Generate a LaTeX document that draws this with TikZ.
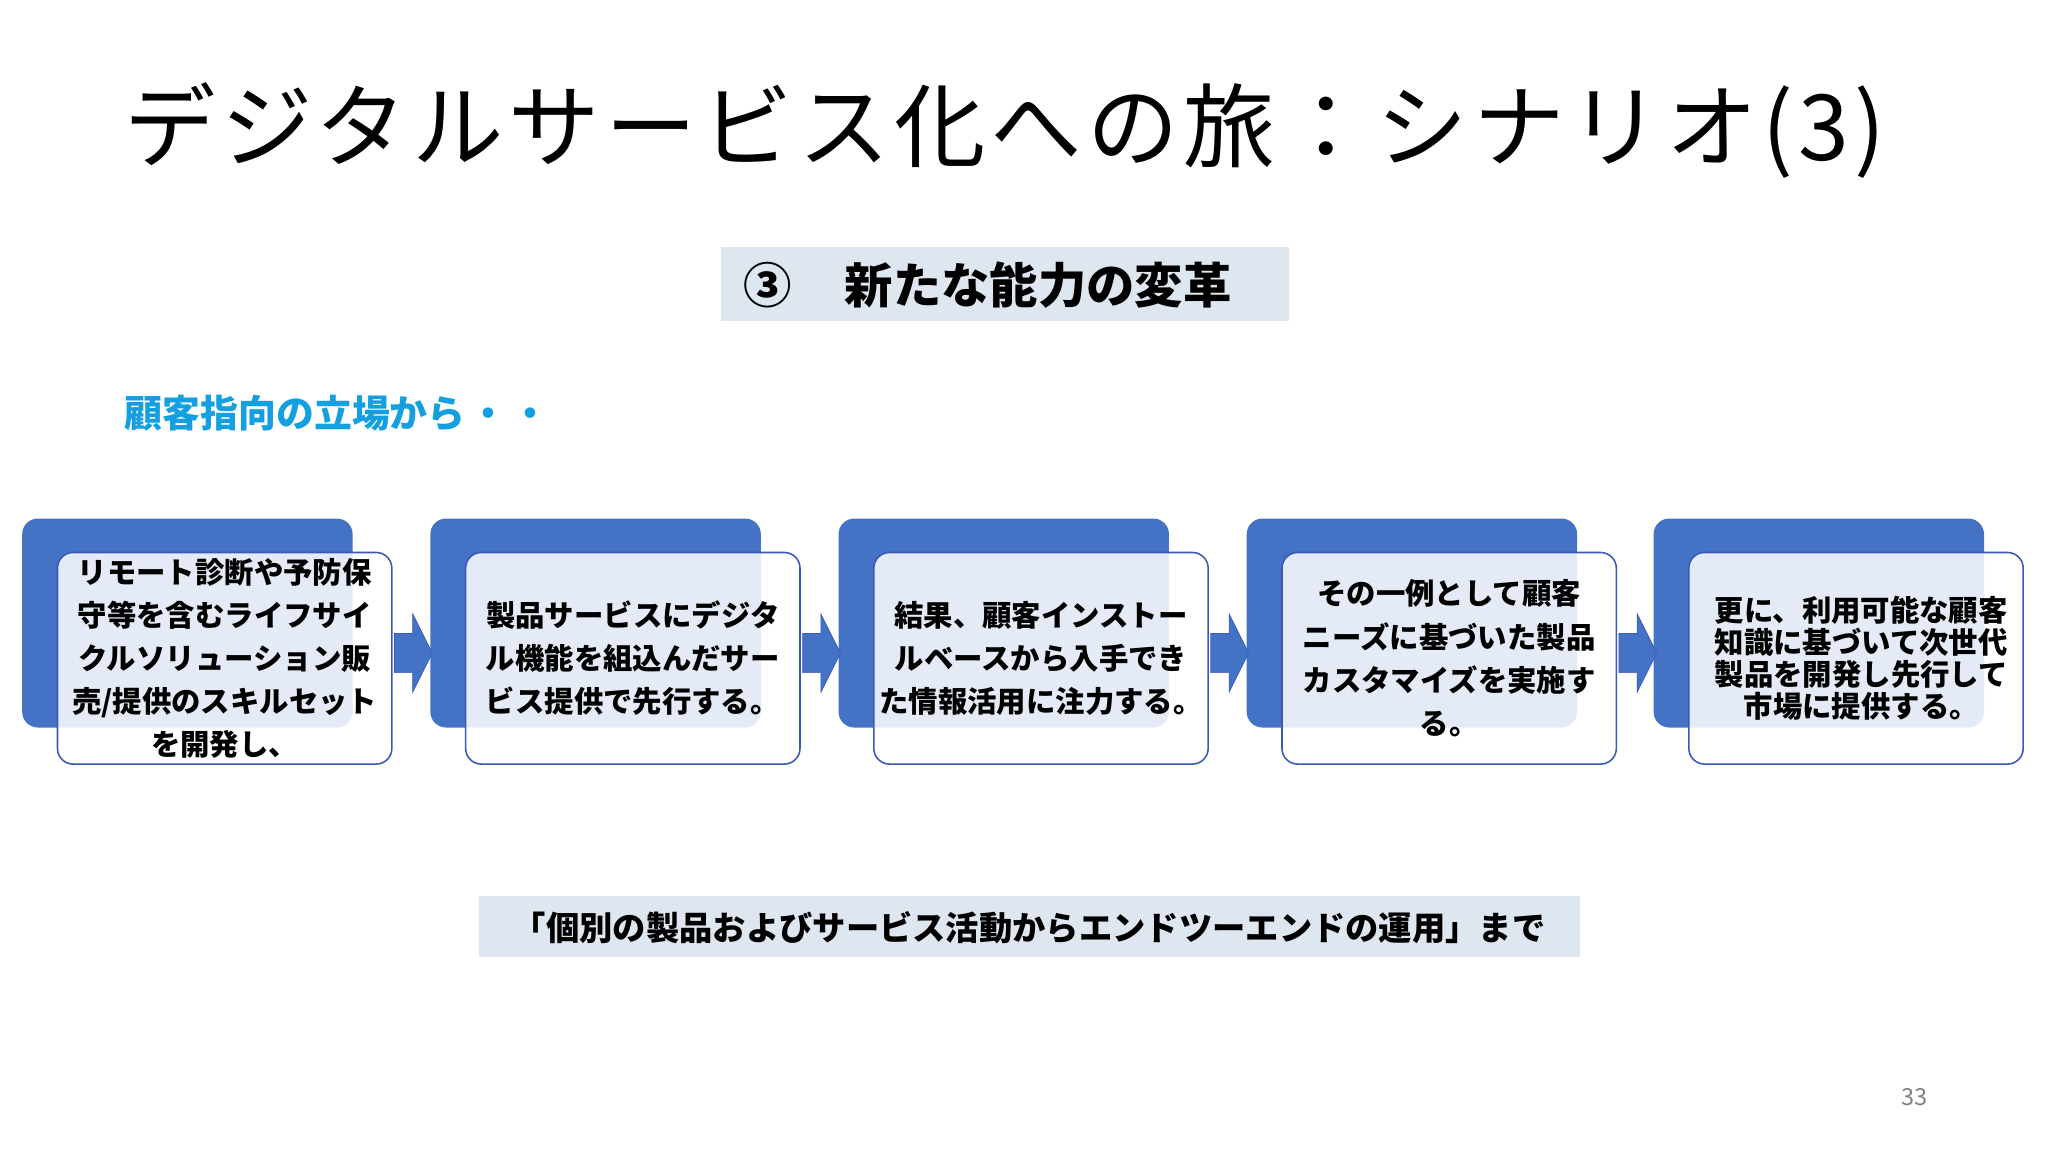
\documentclass[tikz,border=0pt]{standalone}
\usepackage{fontspec}
\setmainfont{Noto Sans CJK JP}
\definecolor{pblue}{HTML}{4472C4}
\definecolor{bord}{HTML}{3A5BB5}
\definecolor{band}{HTML}{DEE6F0}
\definecolor{cyanish}{HTML}{14A0E0}
\begin{document}
\begin{tikzpicture}[x=1pt,y=-1pt,
  back/.style={fill=pblue,rounded corners=12pt},
  front/.style={draw=bord,line width=1.2pt,fill=white,fill opacity=0.86,text opacity=1,rounded corners=12pt},
  txt/.style={align=center,font=\fontsize{22.5}{33}\selectfont\bfseries,text=black},
  arr/.style={fill=pblue,draw=bord,line width=0.5pt}]
\useasboundingbox (0,0) rectangle (1568,882);
\node[anchor=west,font=\fontsize{70}{80}\selectfont\addfontfeature{LetterSpace=5.5}] (title) at (92,100) {デジタルサービス化への旅：シナリオ(3)};
\fill[band] (552,189) rectangle (987,246);
\node[font=\fontsize{37}{40}\selectfont\bfseries] (sub) at (756,218) {③\hspace{1.1em}新たな能力の変革};
\node[anchor=west,text=cyanish,font=\fontsize{29}{34}\selectfont\bfseries] (lead) at (92,316) {顧客指向の立場から\hspace{0.1em}・\hspace{0.1em}・};
\foreach \i/\dx in {1/0,2/312.5,3/625,4/937.5,5/1249}{
  \fill[back] (17+\dx,397) rectangle (270+\dx,557);
  \draw[front] (44+\dx,423) rectangle (300+\dx,585);
  \coordinate (c\i) at (172+\dx,504);
}
\foreach \dx in {0,312.5,625,937.5,1249}{
  \ifdim\dx pt<1200pt
  \filldraw[arr] (302+\dx,485) -- (316+\dx,485) -- (316+\dx,470) -- (331+\dx,500) -- (316+\dx,530) -- (316+\dx,515) -- (302+\dx,515) -- cycle;
  \fi
}
\node[txt] (t1) at (c1) {リモート診断や予防保\\守等を含むライフサイ\\クルソリューション販\\売/提供のスキルセット\\を開発し、};
\node[txt] (t2) at (c2) {製品サービスにデジタ\\ル機能を組込んだサー\\ビス提供で先行する。};
\node[txt] (t3) at (c3) {結果、顧客インストー\\ルベースから入手でき\\た情報活用に注力する。};
\node[txt] (t4) at (c4) {その一例として顧客\\ニーズに基づいた製品\\カスタマイズを実施す\\る。};
\node[txt,font=\fontsize{22.5}{24.5}\selectfont\bfseries] (t5) at ([xshift=4]c5) {更に、利用可能な顧客\\知識に基づいて次世代\\製品を開発し先行して\\市場に提供する。};
\fill[band] (367,686) rectangle (1210,733);
\node[font=\fontsize{25.5}{30}\selectfont\bfseries] (bot) at (788,710) {「個別の製品およびサービス活動からエンドツーエンドの運用」まで};
\node[text=gray,font=\fontsize{18}{20}\selectfont] (pg) at (1466,840) {33};
\end{tikzpicture}
\end{document}
